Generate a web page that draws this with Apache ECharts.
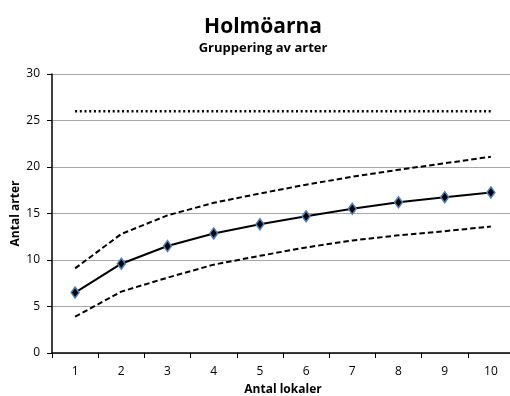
<!DOCTYPE html>
<html><head><meta charset="utf-8">
<script src="https://cdn.jsdelivr.net/npm/echarts@6/dist/echarts.min.js"></script>
<style>html,body{margin:0;padding:0;background:#fff}#c{width:510px;height:396px}</style>
</head><body><div id="c"></div>
<script>
const categories = ['1','2','3','4','5','6','7','8','9','10'];
const meanValues = [6.5, 9.6, 11.5, 12.85, 13.85, 14.7, 15.5, 16.2, 16.75, 17.27];
const upperValues = [9.1, 12.8, 14.8, 16.15, 17.15, 18.1, 18.95, 19.7, 20.4, 21.1];
const lowerValues = [3.9, 6.6, 8.1, 9.5, 10.45, 11.35, 12.1, 12.65, 13.1, 13.6];
const totalValues = [26, 26, 26, 26, 26, 26, 26, 26, 26, 26];

const font = '"Open Sans", sans-serif';
const chart = echarts.init(document.getElementById('c'), null, {renderer:'canvas'});
chart.setOption({
  animation: false,
  title: {
    text: 'Holmöarna', subtext: 'Gruppering av arter',
    left: 258, textAlign: 'center', top: 12, itemGap: 4,
    textStyle: {fontFamily: font, fontWeight: 'bold', fontSize: 21, color: '#000'},
    subtextStyle: {fontFamily: font, fontWeight: 'bold', fontSize: 13, color: '#000'}
  },
  grid: {left: 52, top: 74, width: 462, height: 279, containLabel: false, outerBoundsMode: 'none'},
  xAxis: {
    type: 'category', data: categories, boundaryGap: true,
    name: 'Antal lokaler', nameLocation: 'middle', nameGap: 31, nameMoveOverlap: false,
    nameTextStyle: {fontFamily: font, fontWeight: 'bold', fontSize: 12, color: '#000'},
    axisLine: {lineStyle: {color: '#000', width: 1.5}},
    axisTick: {show: true, length: 5, lineStyle: {color: '#000'}, alignWithLabel: false},
    axisLabel: {fontFamily: font, fontSize: 12, color: '#000', margin: 13}
  },
  yAxis: {
    type: 'value', min: 0, max: 30, interval: 5,
    name: 'Antal arter', nameLocation: 'middle', nameGap: 30, nameRotate: 90, nameMoveOverlap: false,
    nameTextStyle: {fontFamily: font, fontWeight: 'bold', fontSize: 12, color: '#000'},
    axisLine: {show: true, lineStyle: {color: '#000', width: 1.5}},
    axisTick: {show: true, length: 5, lineStyle: {color: '#000'}},
    axisLabel: {fontFamily: font, fontSize: 12, color: '#000', margin: 12},
    splitLine: {lineStyle: {color: '#a8a8a8', width: 1.2}}
  },
  series: [
    {type: 'line', data: totalValues, symbol: 'none', lineStyle: {color: '#000', width: 2.5, type: [2, 2.7]}},
    {type: 'line', data: upperValues, symbol: 'none', lineStyle: {color: '#000', width: 2, type: [5.5, 3]}},
    {type: 'line', data: lowerValues, symbol: 'none', lineStyle: {color: '#000', width: 2, type: [5.5, 3]}},
    {type: 'line', data: meanValues, symbol: 'diamond', symbolSize: [8, 11],
     lineStyle: {color: '#000', width: 2},
     itemStyle: {color: '#000', borderColor: '#4f81bd', borderWidth: 1.5}}
  ]
});
</script></body></html>
